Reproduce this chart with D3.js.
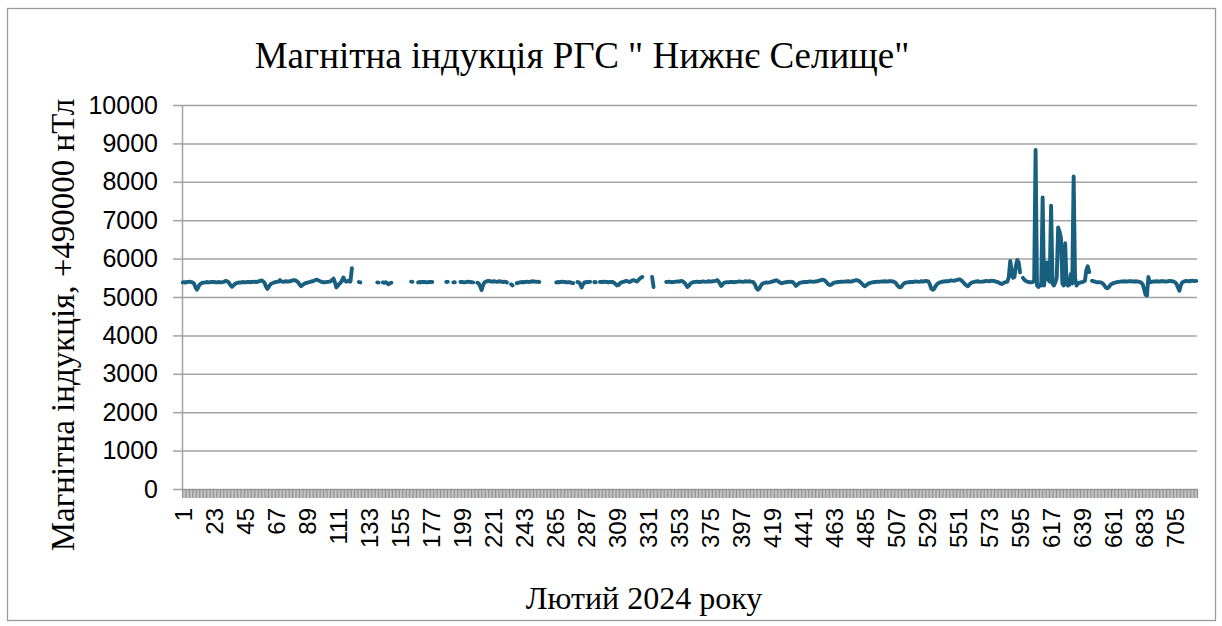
<!DOCTYPE html>
<html>
<head>
<meta charset="utf-8">
<script src="https://cdn.jsdelivr.net/npm/d3@7"></script>
<style>
  body { margin: 0; background: #fff; }
  svg { display: block; }
</style>
</head>
<body>
<div id="chart"></div>
<script>
// Chart text
const chartTitle = 'Магнітна індукція РГС " Нижнє Селище"';
const yTitle = 'Магнітна індукція, +490000 нТл';
const xTitle = 'Лютий 2024 року';

// Categories 1..720 (hourly-ish readings over February), label every 22nd
const hours = d3.range(1, 721);
const hourLabels = hours.filter(h => (h - 1) % 22 === 0);
const yTicks = [0, 1000, 2000, 3000, 4000, 5000, 6000, 7000, 8000, 9000, 10000];

// Magnetic induction, nT above 490000 (null = no reading)
const induction = [
  5380,5385,5375,5390,5395,5400,5390,5380,5350,5260, 5190,5250,5320,5350,5370,5375,5380,5390,5385,5380,
  5390,5395,5390,5385,5380, 5385,5390,5380,5385,5395, 5410,5420,5400,5360,5300, 5270,5300,5340,5360,5370,
  5380,5375,5385,5390,5380, 5385,5390,5395,5385,5390, 5395,5400,5390,5395,5410, 5420,5430,5410,5370,5280,
  5210,5260,5320,5350,5365, 5380,5390,5395,5400,5440, 5405,5395,5400,5410,5405, 5400,5410,5420,5430,5440,
  5430,5410,5380,5320,5280, 5310,5340,5360,5370,5380, 5390,5400,5410,5420,5440, 5450,5440,5420,5400,5390,
  5385,5380,5390,5395,5400, 5410,5440,5480,5380,5250, 5290,5340,5370,5440,5510, 5420,5400,5410,5430,5400,
  5750,null,null,null,null, 5390,5380,null,null,null, null,null,null,null,null, null,null,null,5380,5375,
  null,null,5380,5370,5385, 5360,5330,5360,5370,null, null,null,null,null,null, null,null,null,null,null,
  null,null,5400,5395,null, null,null,5380,5390,5385, 5390,5395,5390,5380,5385, 5390,5395,5390,null,null,
  null,null,null,null,null, null,null,5390,5395,null, null,null,5380,5385,null, null,null,5390,5395,5385,
  5380,5390,5400,5395,5390, 5385,5380,null,null,5370, 5350,5280,5180,5300,5380, 5400,5410,5420,5410,5400,
  5405,5410,5400,5395,5405, 5410,5400,5390,5400,5395, 5380,null,null,5330,5300, null,null,5360,5370,5380,
  5385,5390,5385,5390,5400, 5395,5390,5400,5410,5405, 5400,5395,5400,5390,null, null,null,null,null,null,
  null,null,null,null,null, 5380,5390,5385,5390,5400, 5395,5390,5385,5380,5390, 5380,5370,5360,null,null,
  5390,5380,5340,5250,5330, 5380,5390,5385,5390,5395, null,null,5390,5385,null, null,5390,5395,5390,5400,
  5395,5390,5385,5390,5395, 5390,5370,5340,5300,5310, 5350,5380,5390,5400,5410, 5420,5400,5390,5410,5430,
  5440,5420,5400,5430,5470, 5500,5520,null,null,null, null,null,null,5520,5260, null,null,null,null,null,
  null,null,null,5390,5395, 5400,5390,5385,5390,5395, 5400,5405,5400,5410,5420, 5400,5370,5320,5260,5290,
  5340,5370,5385,5390,5395, 5400,5395,5390,5400,5405, 5400,5395,5400,5410,5405, 5400,5410,5415,5420,5440,
  5410,5350,5290,5330,5370, 5380,5385,5380,5390,5395, 5390,5385,5390,5395,5400, 5405,5400,5395,5400,5410,
  5405,5400,5410,5400,5395, 5380,5320,5230,5190,5220, 5290,5340,5360,5370,5380, 5375,5380,5390,5400,5410,
  5420,5440,5420,5390,5370, 5360,5370,5380,5385,5390, 5395,5400,5395,5380,5340, 5290,5320,5350,5370,5380,
  5385,5390,5395,5390,5400, 5405,5400,5395,5400,5405, 5410,5420,5430,5440,5450, 5440,5410,5370,5330,5310,
  5320,5350,5370,5380,5385, 5390,5395,5400,5395,5400, 5405,5400,5410,5405,5400, 5410,5420,5430,5440,5430,
  5410,5380,5340,5300,5280, 5310,5340,5360,5370,5380, 5385,5390,5395,5400,5395, 5400,5405,5400,5410,5405,
  5400,5410,5415,5410,5400, 5390,5360,5300,5260,5250, 5280,5330,5360,5375,5380, 5385,5390,5395,5390,5400,
  5405,5400,5395,5400,5410, 5405,5410,5420,5415,5400, 5330,5220,5190,5210,5280, 5330,5360,5380,5390,5400,
  5405,5410,5415,5410,5420, 5430,5425,5420,5430,5440, 5450,5460,5440,5410,5370, 5330,5300,5280,5320,5360,
  5380,5390,5400,5405,5410, 5400,5395,5400,5405,5410, 5420,5415,5410,5420,5425, 5420,5410,5400,5390,5370,
  5350,5340,5360,5380,5390, 5400,5520,5940,5700,5500, 5520,5800,5965,5900,5640, null,5500,5450,5420,5400,
  5390,5385,5380,5390,5420, 8830,5300,5260,5320,5300, 7590,5300,5600,5900,5450, 5400,7380,5350,5300,5380,
  5500,6810,6700,6530,5350, 5300,6400,5350,5300,5320, 5600,5350,8140,5500,5300, 5350,5370,5380,5390,5400,
  5420,5700,5800,5650,null, 5420,5410,5400,5390,5380, 5385,5380,5370,5340,5290, 5240,5230,5260,5310,5340,
  5360,5370,5380,5390,5395, 5400,5405,5400,5410,5405, 5400,5410,5415,5410,5405, 5400,5410,5405,5400,5390,
  5370,5330,5200,5060,5040, 5520,5380,5390,5400,5405, 5400,5410,5405,5400,5410, 5415,5410,5400,5405,5410,
  5420,5415,5410,5400,5380, 5340,5250,5160,5300,5380, 5400,5410,5420,5415,5410, 5420,5425,5420,5415,5420
];

const W = 1222, H = 626;
const plot = { left: 182, right: 1197, top: 105, bottom: 489 };
const gridColor = '#a3a3a3';
const lineColor = '#185f80';

const svg = d3.select('#chart')
    .append('svg')
    .attr('width', W)
    .attr('height', H);

svg.append('rect')
    .attr('width', W).attr('height', H)
    .attr('fill', '#fff');

// chart area border
svg.append('rect')
    .attr('x', 7.5).attr('y', 8.5)
    .attr('width', 1208).attr('height', 612)
    .attr('fill', 'none')
    .attr('stroke', '#9a9a9a')
    .attr('stroke-width', 1.3);

// x in "category slots": slot i spans [i, i+1]
const x = d3.scaleLinear()
    .domain([0, hours.length])
    .range([plot.left, plot.right]);

const y = d3.scaleLinear()
    .domain([0, 10000])
    .range([plot.bottom, plot.top]);

// gridlines
svg.append('g')
    .attr('class', 'grid')
    .attr('transform', `translate(${plot.left},0)`)
    .call(d3.axisLeft(y).tickValues(yTicks.slice(1)).tickSize(-(plot.right - plot.left)).tickFormat(''))
    .call(g => g.select('.domain').remove())
    .call(g => g.selectAll('line').attr('stroke', gridColor).attr('stroke-width', 1.5));

// y axis
svg.append('g')
    .attr('class', 'axis')
    .attr('transform', `translate(${plot.left},0)`)
    .call(d3.axisLeft(y).tickValues(yTicks).tickSize(9).tickSizeOuter(0).tickPadding(15).tickFormat(d3.format('d')))
    .call(g => g.select('.domain').attr('stroke', gridColor).attr('stroke-width', 1.5))
    .call(g => g.selectAll('line').attr('stroke', gridColor).attr('stroke-width', 1.5))
    .call(g => g.selectAll('text')
        .attr('font-family', 'Liberation Sans, Arial, sans-serif')
        .attr('font-size', 25)
        .attr('fill', '#000'));

// x axis: one tick mark per category boundary
svg.append('g')
    .attr('class', 'axis')
    .attr('transform', `translate(0,${plot.bottom})`)
    .call(d3.axisBottom(x).tickValues(d3.range(0, hours.length + 1)).tickSize(9).tickSizeOuter(0).tickFormat(''))
    .call(g => g.select('.domain').attr('stroke', gridColor).attr('stroke-width', 1.5))
    .call(g => g.selectAll('line').attr('stroke', '#8e8e8e').attr('stroke-width', 1));

// x labels at category centres, rotated
svg.append('g')
    .attr('class', 'axis')
    .attr('transform', `translate(0,${plot.bottom})`)
    .call(d3.axisBottom(x).tickValues(hourLabels.map(h => h - 0.5)).tickSize(0).tickFormat(v => v + 0.5))
    .call(g => g.select('.domain').remove())
    .call(g => g.selectAll('text')
        .attr('font-family', 'Liberation Sans, Arial, sans-serif')
        .attr('font-size', 24)
        .attr('fill', '#000')
        .attr('transform', 'rotate(-90)')
        .attr('text-anchor', 'end')
        .attr('x', -19)
        .attr('y', 0)
        .attr('dy', '0.36em'));

// data line
const line = d3.line()
    .defined(d => d != null)
    .x((d, i) => x(i + 0.5))
    .y(d => y(d));

svg.append('path')
    .datum(induction)
    .attr('d', line)
    .attr('fill', 'none')
    .attr('stroke', lineColor)
    .attr('stroke-width', 3.9)
    .attr('stroke-linejoin', 'round')
    .attr('stroke-linecap', 'round');

// titles
svg.append('text')
    .attr('x', 582)
    .attr('y', 68)
    .attr('text-anchor', 'middle')
    .attr('font-family', 'Liberation Serif, Times New Roman, serif')
    .attr('font-size', 37)
    .text(chartTitle);

svg.append('text')
    .attr('transform', 'translate(74,325) rotate(-90)')
    .attr('text-anchor', 'middle')
    .attr('font-family', 'Liberation Serif, Times New Roman, serif')
    .attr('font-size', 33)
    .text(yTitle);

svg.append('text')
    .attr('x', 644)
    .attr('y', 609)
    .attr('text-anchor', 'middle')
    .attr('font-family', 'Liberation Serif, Times New Roman, serif')
    .attr('font-size', 32)
    .text(xTitle);
</script>
</body>
</html>
